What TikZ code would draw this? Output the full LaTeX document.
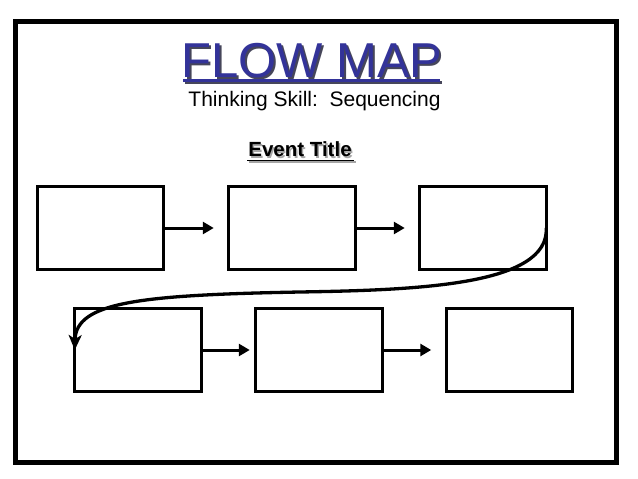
\documentclass[tikz,border=0pt]{standalone}
\usepackage{fontspec}
\setmainfont{Liberation Sans}
\usetikzlibrary{arrows.meta}
\definecolor{mapblue}{RGB}{51,51,153}
\definecolor{shadowc}{RGB}{70,70,90}
\begin{document}
\begin{tikzpicture}[x=1pt,y=-1pt,
  stepbox/.style={draw=black,line width=2.8pt,minimum width=126.5pt,minimum height=83.5pt,inner sep=0pt,outer sep=0pt},
  arr/.style={line width=3pt,-{Triangle[length=11pt,width=12pt]}},
  curvearr/.style={line width=3.3pt,-{Stealth[length=15pt,width=13pt,inset=4pt]}},
  titletext/.style={font=\fontsize{49}{55}\selectfont,inner sep=0pt,anchor=base},
]
\useasboundingbox (0,0) rectangle (638,479);
\fill[white] (0,0) rectangle (638,479);
\draw[line width=5pt] (15.5,21.5) rectangle (616.5,462.5);

% title with shadow
\node[titletext,text=shadowc] (tshadow) at (313.8,79.3) {FLOW MAP};
\draw[shadowc,line width=2.5pt] (184.8,82.3) -- (441.8,82.3);
\node[titletext,text=mapblue] (title) at (312,77.5) {FLOW MAP};
\draw[mapblue,line width=2.5pt] (183,80.5) -- (440,80.5);

\node[font=\fontsize{21}{25}\selectfont,inner sep=0pt,anchor=base] (skill) at (314.5,106) {Thinking Skill:\ \ Sequencing};

\node[font=\fontsize{20.5}{24}\selectfont\bfseries,inner sep=0pt,anchor=base,text=black!35] (evshadow) at (301.5,158) {Event Title};
\draw[black!35,line width=1.8pt] (248.5,162) -- (355.5,162);
\node[font=\fontsize{20.5}{24}\selectfont\bfseries,inner sep=0pt,anchor=base] (event) at (300,156.5) {Event Title};
\draw[line width=1.8pt] (247,160.5) -- (354,160.5);

% boxes
\node[stepbox] (b1) at (100.5,228) {};
\node[stepbox] (b2) at (292,228) {};
\node[stepbox] (b3) at (483,228) {};
\node[stepbox] (b4) at (138,350) {};
\node[stepbox] (b5) at (319,350) {};
\node[stepbox] (b6) at (509.5,350) {};

% arrows
\draw[arr,shorten >=15pt] (b1) -- (b2);
\draw[arr,shorten >=15pt] (b2) -- (b3);
\draw[arr,shorten >=6pt] (b4) -- (b5);
\draw[arr,shorten >=15pt] (b5) -- (b6);

\coordinate (cstart) at (b3.east);
\coordinate (cend) at (b4.west);
\draw[curvearr] (cstart) .. controls (549,285) and (420,290) .. (300,292)
   .. controls (140,295) and (76,302) .. (cend);
\end{tikzpicture}
\end{document}
